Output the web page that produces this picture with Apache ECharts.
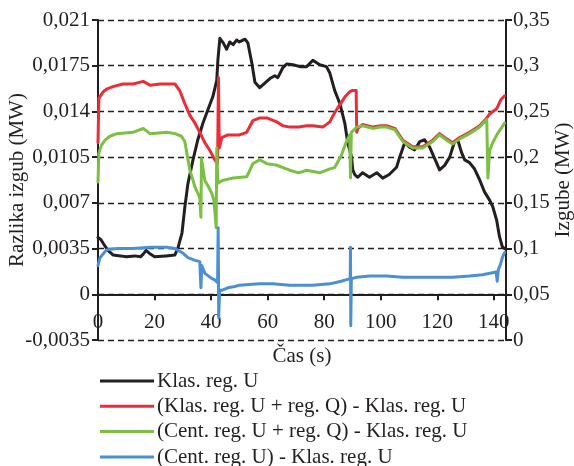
<!DOCTYPE html>
<html><head><meta charset="utf-8">
<script src="https://cdn.jsdelivr.net/npm/echarts@6/dist/echarts.min.js"></script>
<style>html,body{margin:0;padding:0;background:#fff}#c{width:574px;height:466px}</style>
</head><body><div id="c"></div>
<script>
const seriesNames = ['Klas. reg. U', '(Klas. reg. U + reg. Q) - Klas. reg. U', '(Cent. reg. U + reg. Q) - Klas. reg. U', '(Cent. reg. U) - Klas. reg. U'];
const xTickLabels = ['0','20','40','60','80','100','120','140'];
const leftTickLabels = ['-0,0035','0','0,0035','0,007','0,0105','0,014','0,0175','0,021'];
const rightTickLabels = ['0','0,05','0,1','0,15','0,2','0,25','0,3','0,35'];

// [time (s), losses (MW)] - right axis
const klasU = [[0,0.112],[1,0.110],[2,0.105],[3.5,0.098],[5.3,0.093],[8,0.092],[10,0.091],[13,0.092],[15,0.091],[16,0.094],[17,0.098],[18.5,0.094],[20,0.091],[24,0.092],[27.2,0.093],[28.3,0.101],[29.7,0.117],[30.7,0.145],[31.8,0.171],[33.6,0.197],[35.3,0.219],[37.1,0.237],[38.9,0.252],[40.6,0.266],[42,0.284],[42.4,0.306],[43.1,0.330],[44.3,0.325],[45.5,0.318],[46.6,0.326],[47.8,0.323],[49,0.328],[50,0.326],[52,0.329],[53,0.325],[54.4,0.303],[55.5,0.282],[57.2,0.276],[59,0.281],[60.8,0.286],[62.5,0.289],[63.6,0.287],[65.4,0.298],[66.8,0.302],[69,0.301],[71.4,0.299],[73.8,0.299],[76,0.306],[78.4,0.301],[80.8,0.299],[82,0.292],[83.7,0.273],[85.5,0.259],[87.3,0.237],[88.3,0.216],[89.7,0.200],[90.1,0.186],[90.8,0.181],[91.9,0.178],[93.6,0.183],[96,0.178],[98.6,0.183],[100.7,0.177],[103,0.181],[105.6,0.189],[106.7,0.200],[108.5,0.216],[110.2,0.211],[112,0.208],[113.8,0.217],[115.5,0.219],[117.3,0.211],[119,0.199],[120.8,0.186],[122.6,0.191],[124.4,0.200],[126,0.216],[127.2,0.219],[128.6,0.205],[129.7,0.197],[131.4,0.194],[133.2,0.187],[135,0.175],[136.7,0.162],[138.5,0.153],[139.6,0.146],[141,0.131],[142,0.113],[143,0.102],[143.8,0.100]];

// [time (s), loss difference (MW)] - left axis
const klasUQ = [[0,0.0116],[0.3,0.0150],[1.8,0.0155],[3,0.0157],[5.3,0.0159],[8.8,0.0161],[12.4,0.0161],[16,0.0163],[18.4,0.0160],[22,0.0161],[26,0.0161],[27.2,0.0161],[28.9,0.0156],[30.7,0.0146],[32.5,0.0137],[34.3,0.0131],[36,0.0124],[37.8,0.0116],[39.6,0.0110],[41.3,0.0103],[42.3,0.0100],[42.6,0.0166],[42.9,0.0112],[43.8,0.0120],[45.9,0.0122],[47.8,0.0122],[50,0.0122],[52.6,0.0124],[54.8,0.0133],[57.2,0.0135],[59.7,0.0135],[63.2,0.0132],[65.4,0.0129],[67.8,0.0128],[71,0.0128],[73.8,0.0129],[76,0.0129],[79.5,0.0128],[82,0.0132],[83.7,0.0139],[85.5,0.0145],[87.3,0.0151],[89,0.0155],[89.8,0.0156],[91.3,0.0156],[91.5,0.0124],[91.9,0.0127],[93.6,0.0130],[97.2,0.0128],[100,0.0129],[102,0.0129],[105,0.0127],[107.8,0.0118],[111.3,0.0113],[114.8,0.0113],[118.4,0.0118],[120.8,0.0123],[123.3,0.0119],[125.4,0.0116],[127.9,0.0120],[131.4,0.0124],[135,0.0129],[137.5,0.0135],[138.5,0.0138],[141,0.0142],[142.5,0.0149],[143.8,0.0152]];

const centUQ = [[0,0.0086],[0.3,0.0108],[1.2,0.0114],[2.5,0.0118],[4.2,0.0121],[6.7,0.0123],[12.4,0.0124],[16,0.0127],[18.4,0.0123],[24.4,0.0124],[27.2,0.0123],[29.5,0.0121],[30.7,0.0117],[32.5,0.0095],[34.3,0.0082],[36,0.0074],[36.4,0.0059],[36.6,0.0104],[37.8,0.0087],[38.9,0.0083],[40.3,0.0077],[41,0.0072],[41.8,0.0051],[42,0.0112],[42.4,0.0085],[43.8,0.0087],[47.8,0.0089],[52.6,0.0090],[54.8,0.0100],[57.2,0.0103],[59.7,0.0100],[63,0.0099],[67.8,0.0095],[71,0.0093],[73.8,0.0095],[78.4,0.0093],[82,0.0096],[83.7,0.0097],[86,0.0106],[87.7,0.0116],[89,0.0122],[89.3,0.0089],[89.6,0.0124],[91.5,0.0128],[93.6,0.0129],[97.2,0.0127],[100,0.0128],[102,0.0128],[105,0.0126],[107.8,0.0117],[111.3,0.0112],[114.8,0.0112],[118.4,0.0117],[120.8,0.0122],[123.3,0.0118],[125.4,0.0115],[127.9,0.0119],[131.4,0.0123],[135,0.0128],[137.5,0.0134],[137.9,0.0089],[138.5,0.0110],[139.6,0.0116],[141.3,0.0123],[143.8,0.0131]];

const centU = [[0,0.0022],[0.7,0.0028],[3,0.0034],[6.7,0.0035],[12.4,0.0035],[18.4,0.0036],[24.4,0.0036],[27.2,0.0035],[29.7,0.0032],[31.8,0.0028],[34.3,0.0026],[36,0.0025],[36.4,0.0005],[36.7,0.0022],[37.8,0.0016],[40.3,0.0012],[41.3,0.0011],[42.3,0.0009],[42.5,0.0051],[42.7,-0.0018],[43,0.0003],[43.8,0.0003],[45.9,0.0005],[48.4,0.0006],[50,0.0007],[57.2,0.0008],[61.8,0.0008],[67.8,0.0007],[76,0.0007],[82,0.0008],[86,0.0010],[89.2,0.0012],[89.3,0.0036],[89.4,-0.0024],[89.6,0.0012],[91.5,0.0013],[96,0.0014],[102,0.0014],[107.8,0.0013],[113.8,0.0013],[119.8,0.0013],[125.4,0.0013],[131.4,0.0014],[136,0.0015],[140.8,0.0017],[141.2,0.0010],[141.6,0.0019],[142.2,0.0022],[143,0.0028],[143.8,0.0032]];

const colors = ['#231f20', '#ec2d37', '#7bc043', '#4b8fd4'];
const FONT = 'Liberation Serif';
const FS = 21;
const TXT = '#231f20';
const LMIN = -0.0035, LSTEP = 0.0035, RMIN = 0, RSTEP = 0.05;

const chart = echarts.init(document.getElementById('c'), null, {renderer: 'canvas'});
const mk = (i, data, yi) => ({
  name: seriesNames[i], type: 'line', data: data, yAxisIndex: yi,
  showSymbol: false, symbol: 'none', smooth: false,
  lineStyle: {color: colors[i], width: 3, join: 'round', cap: 'round'},
  itemStyle: {color: colors[i]}, z: 2 + i, animation: false
});
const legendBase = {
  orient: 'vertical', left: 100, itemGap: 4.3, padding: 0,
  itemWidth: 54, itemHeight: 3, icon: 'rect',
  textStyle: {fontFamily: FONT, fontSize: FS, color: TXT, padding: [0,0,0,-2]}
};
chart.setOption({
  animation: false,
  backgroundColor: '#fff',
  textStyle: {fontFamily: FONT, color: TXT},
  grid: {left: 98, right: 68, top: 20, bottom: 126, containLabel: false, outerBoundsMode: 'none'},
  legend: [
    Object.assign({}, legendBase, {top: 370.5, data: seriesNames.slice(0, 3)}),
    Object.assign({}, legendBase, {top: 446.5, data: seriesNames.slice(3)})
  ],
  xAxis: {
    type: 'value', min: 0, max: 144.3, interval: 20,
    name: 'Čas (s)', nameLocation: 'middle', nameGap: 6, nameMoveOverlap: false,
    nameTextStyle: {fontFamily: FONT, fontSize: FS, color: TXT},
    axisLine: {onZero: true, onZeroAxisIndex: 0, lineStyle: {color: TXT, width: 2}},
    axisTick: {show: true, length: 6, lineStyle: {color: TXT, width: 2}},
    axisLabel: {fontFamily: FONT, fontSize: FS, color: TXT, margin: -28, showMaxLabel: false,
      formatter: v => { const k = Math.round(v / 20); return Math.abs(v - k * 20) < 1e-6 && xTickLabels[k] !== undefined ? xTickLabels[k] : ''; }},
    splitLine: {show: false}
  },
  yAxis: [{
    type: 'value', min: LMIN, max: 0.021, interval: LSTEP, position: 'left',
    name: 'Razlika izgub (MW)', nameLocation: 'middle', nameGap: 70, nameRotate: 90, nameMoveOverlap: false,
    nameTextStyle: {fontFamily: FONT, fontSize: FS, color: TXT},
    axisLine: {show: true, onZero: false, lineStyle: {color: TXT, width: 2}},
    axisTick: {show: true, length: 6, lineStyle: {color: TXT, width: 2}},
    axisLabel: {fontFamily: FONT, fontSize: FS, color: TXT, margin: 8,
      formatter: v => leftTickLabels[Math.round((v - LMIN) / LSTEP)] || ''},
    splitLine: {show: true, lineStyle: {color: TXT, width: 1.3, type: [6, 4]}}
  }, {
    type: 'value', min: RMIN, max: 0.35, interval: RSTEP, position: 'right',
    name: 'Izgube (MW)', nameLocation: 'middle', nameGap: 47, nameRotate: 90, nameMoveOverlap: false,
    nameTextStyle: {fontFamily: FONT, fontSize: FS, color: TXT},
    axisLine: {show: true, onZero: false, lineStyle: {color: TXT, width: 2}},
    axisTick: {show: true, length: 6, lineStyle: {color: TXT, width: 2}},
    axisLabel: {fontFamily: FONT, fontSize: FS, color: TXT, margin: 7,
      formatter: v => rightTickLabels[Math.round((v - RMIN) / RSTEP)] || ''},
    splitLine: {show: false}
  }],
  series: [mk(0, klasU, 1), mk(1, klasUQ, 0), mk(2, centUQ, 0), mk(3, centU, 0)]
});
</script></body></html>
